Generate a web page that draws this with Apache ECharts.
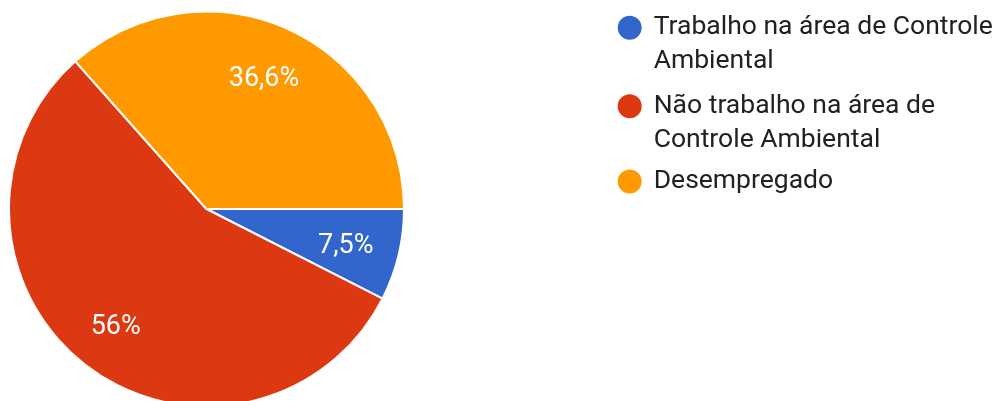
<!DOCTYPE html>
<html lang="pt">
<head>
<meta charset="utf-8">
<title>Situação profissional</title>
<script src="https://cdn.jsdelivr.net/npm/echarts@6/dist/echarts.min.js"></script>
<style>
  html, body { margin: 0; padding: 0; background: #ffffff; }
  #chart { width: 1003px; height: 401px; }
</style>
</head>
<body>
<div id="chart"></div>
<script>
// Respostas por categoria (percentuais)
const categories = [
  'Trabalho na área de Controle Ambiental',
  'Não trabalho na área de Controle Ambiental',
  'Desempregado'
];
const percentages = [7.5, 56, 36.6];
const sliceColors = ['#3366cc', '#dc3912', '#ff9900'];

const pieData = categories.map((name, i) => ({ name: name, value: percentages[i] }));

// Texto do percentual com vírgula decimal
const pctText = (v) => String(v).replace('.', ',') + '%';

// Fonte e largura máxima do texto da legenda
const LEGEND_FONT_SIZE = 26.5;
const LEGEND_FONT = LEGEND_FONT_SIZE + 'px Roboto';
const LEGEND_MAX_W = 352;
const LINE_H = 34;

// Quebra de linha por palavras, medindo com canvas
const measureCtx = document.createElement('canvas').getContext('2d');
function wrapWords(text) {
  measureCtx.font = LEGEND_FONT;
  const words = text.split(' ');
  const lines = [];
  let cur = '';
  words.forEach((w) => {
    const test = cur ? cur + ' ' + w : w;
    if (cur && measureCtx.measureText(test).width > LEGEND_MAX_W) {
      lines.push(cur);
      cur = w;
    } else {
      cur = test;
    }
  });
  if (cur) lines.push(cur);
  return lines;
}

// A bolinha fica alinhada com a primeira linha: itens de duas linhas
// recebem uma linha vazia antes; itens de uma linha, folga simétrica.
function legendText(name) {
  const lines = wrapWords(name);
  return lines.length > 1 ? '\n' + lines.join('\n') : lines[0];
}
function legendPad(name) {
  return wrapWords(name).length > 1 ? 0 : [31, 0, 31, 0];
}

const chart = echarts.init(document.getElementById('chart'), null, { renderer: 'canvas' });

chart.setOption({
  animation: false,
  color: sliceColors,
  legend: {
    orient: 'vertical',
    left: 615.7,
    top: -23.2,
    padding: 0,
    itemGap: -23.6,
    itemWidth: 38,
    itemHeight: 26,
    icon: 'circle',
    selectedMode: false,
    formatter: legendText,
    textStyle: {
      fontFamily: 'Roboto',
      fontSize: LEGEND_FONT_SIZE,
      color: '#212121',
      lineHeight: LINE_H
    },
    data: categories.map((name) => ({
      name: name,
      textStyle: { padding: legendPad(name) }
    }))
  },
  series: [
    {
      type: 'pie',
      center: [206.5, 209],
      radius: [0, 197.5],
      startAngle: 0,
      clockwise: true,
      silent: true,
      label: { show: false },
      labelLine: { show: false },
      itemStyle: { borderColor: '#ffffff', borderWidth: 2 },
      data: pieData
    },
    {
      // camada só com os rótulos de percentual, a ~72% do raio
      type: 'pie',
      center: [206.5, 209],
      radius: [87, 197.5],
      startAngle: 0,
      clockwise: true,
      silent: true,
      avoidLabelOverlap: false,
      itemStyle: { color: 'rgba(0,0,0,0)', borderWidth: 0 },
      label: {
        show: true,
        position: 'inside',
        offset: [-2, 3],
        formatter: (p) => pctText(p.value),
        fontFamily: 'Roboto',
        fontSize: 27,
        color: '#ffffff'
      },
      labelLine: { show: false },
      data: pieData
    }
  ]
});
</script>
</body>
</html>
